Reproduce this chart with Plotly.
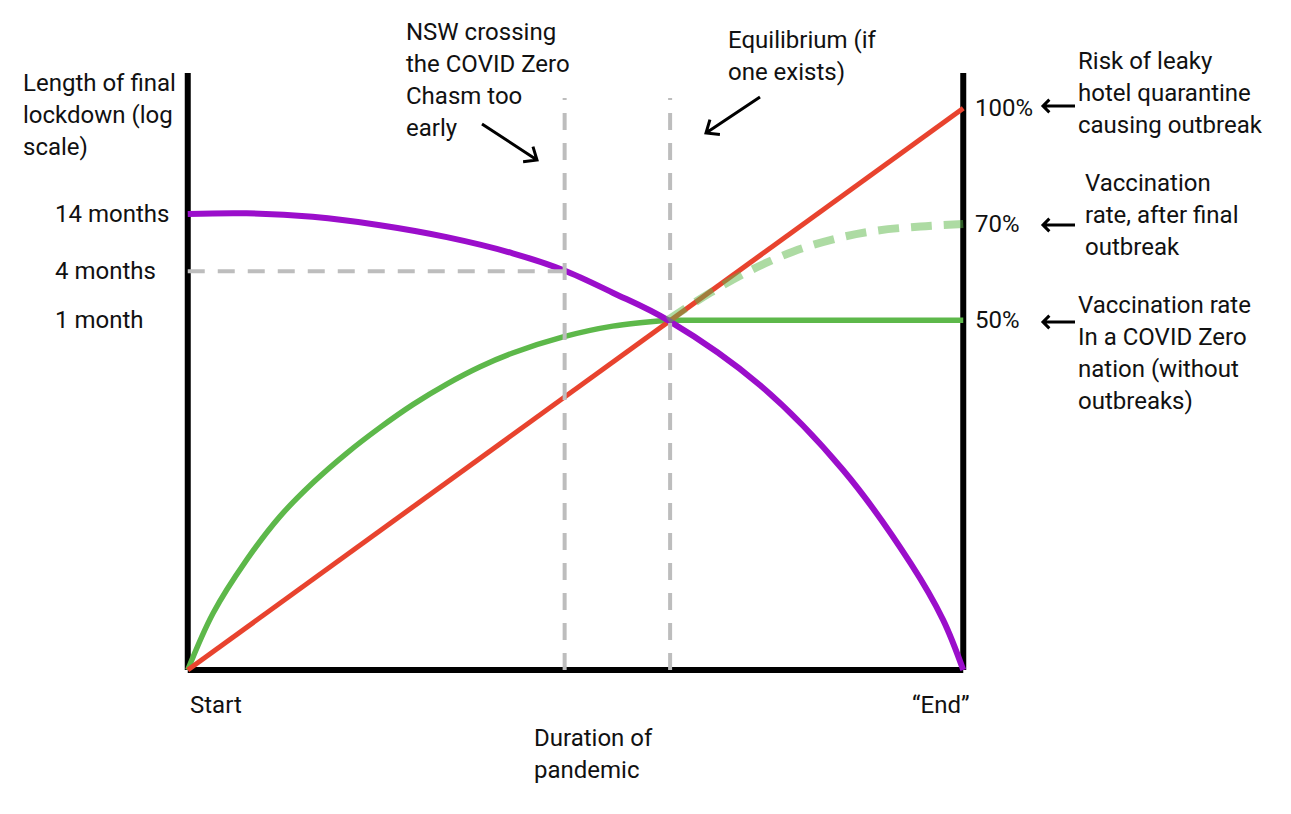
import math
import plotly.graph_objects as go

# ---------------- data ----------------
# x: duration of pandemic (0 = Start, 100 = "End"); y: relative height (0..100)
vacc_curve_x = [0, 3.26, 7.57, 11.87, 16.17, 20.48, 24.77, 29.07, 33.4, 37.7, 41.9, 48.4, 54.8, 61.9]
vacc_curve_y = [0, 9.5, 18.4, 25.7, 31.4, 36.3, 40.6, 44.5, 47.9, 50.8, 53.1, 55.8, 57.6, 58.6]
vacc_flat_x = [61.9, 100]
vacc_flat_y = [58.6, 58.6]

risk_x = [0, 100]
risk_y = [0, 94.1]

lockdown_x = [0, 7.6, 16.1, 24.8, 33.4, 41.9, 48.4, 54.8, 61.9, 73.8, 84.5, 93.2, 97.4, 100]
lockdown_y = [76.4, 76.5, 75.9, 74.5, 72.5, 69.8, 67.0, 63.2, 58.6, 47.7, 33.5, 17.9, 8.4, 0]

after_x = [61.9, 67.4, 72.5, 78.1, 83.7, 88.9, 94.5, 100]
after_y = [58.6, 63.2, 66.9, 70.1, 72.3, 73.6, 74.3, 74.7]

nsw_x = 48.6
equilibrium_x = 62.2
guide_top = 95.8
nsw_lockdown_y = 66.8

left_tick_vals = [76.4, 66.8, 58.6]
left_tick_text = ["14 months", "4 months", "1 month"]
right_tick_vals = [94.1, 74.7, 58.6]
right_tick_text = ["100%", "70%", "50%"]

# ---------------- layout geometry ----------------
# page body has an 8px margin; positions below are in screenshot pixels
W, H = 1275, 798
L, R, T, B = 172, 312, 59, 130
XR = [-1, 101]
YR = [-1, 101]

def pxp(x):
    return (x - 8 - L) / (W - L - R)

def pyp(y):
    return (H - B - (y - 8)) / (H - T - B)

FONT = dict(family="Roboto, 'Open Sans', sans-serif", size=24, color="#111111")

PURPLE = "#9B0ECB"
RED = "#E8432E"
GREEN = "#5DB84A"
GREY = "#BDBDBD"

fig = go.Figure()

fig.add_trace(go.Scatter(x=vacc_curve_x, y=vacc_curve_y, mode="lines",
                         line=dict(color=GREEN, width=5.5, shape="spline", smoothing=1.0)))
fig.add_trace(go.Scatter(x=vacc_flat_x, y=vacc_flat_y, mode="lines",
                         line=dict(color=GREEN, width=5.5)))
fig.add_trace(go.Scatter(x=risk_x, y=risk_y, mode="lines",
                         line=dict(color=RED, width=5)))
fig.add_trace(go.Scatter(x=lockdown_x, y=lockdown_y, mode="lines",
                         line=dict(color=PURPLE, width=6, shape="spline", smoothing=1.0)))
fig.add_trace(go.Scatter(x=after_x, y=after_y, mode="lines", opacity=0.5,
                         line=dict(color=GREEN, width=8, dash="21px,12px", shape="spline", smoothing=1.0)))

# grey guide lines
for gx, gy in [([nsw_x, nsw_x], [0, guide_top]),
               ([equilibrium_x, equilibrium_x], [0, guide_top]),
               ([0, nsw_x], [nsw_lockdown_y, nsw_lockdown_y])]:
    fig.add_trace(go.Scatter(x=gx, y=gy, mode="lines",
                             line=dict(color=GREY, width=4, dash="17px,13px")))

shapes = []
# axes frame (left, right, bottom)
for x0, y0, x1, y1 in [(0, 0, 0, 100), (100, 0, 100, 100), (0, 0, 100, 0)]:
    shapes.append(dict(type="line", xref="x", yref="y", x0=x0, y0=y0, x1=x1, y1=y1,
                       line=dict(color="black", width=6), layer="below"))

def arrow(tail, head, leg=14, ang=40, width=3):
    tx, ty = tail
    hx, hy = head
    dx, dy = hx - tx, hy - ty
    n = math.hypot(dx, dy)
    ux, uy = dx / n, dy / n
    pts = []
    for s in (1, -1):
        a = math.radians(ang) * s
        bx = (-ux) * math.cos(a) - (-uy) * math.sin(a)
        by = (-ux) * math.sin(a) + (-uy) * math.cos(a)
        pts.append((hx + leg * bx, hy + leg * by))
    path = (f"M {pxp(tx)} {pyp(ty)} L {pxp(hx)} {pyp(hy)} "
            f"M {pxp(pts[0][0])} {pyp(pts[0][1])} L {pxp(hx)} {pyp(hy)} "
            f"L {pxp(pts[1][0])} {pyp(pts[1][1])}")
    shapes.append(dict(type="path", xref="paper", yref="paper", path=path,
                       line=dict(color="black", width=width)))

arrow((482, 124), (537, 160))
arrow((760, 97), (706, 133))
arrow((1075, 106), (1043, 106), leg=9, ang=45)
arrow((1075, 225), (1043, 225), leg=9, ang=45)
arrow((1075, 322), (1043, 322), leg=9, ang=45)

annotations = []

def block(lines, x, y0, dy=32, anchor="left"):
    for i, s in enumerate(lines):
        annotations.append(dict(text=s, x=pxp(x), y=pyp(y0 + i * dy), xref="paper", yref="paper",
                                xanchor=anchor, yanchor="middle", showarrow=False, font=FONT))

block(["Length of final", "lockdown (log", "scale)"], 21, 83)
block(["NSW crossing", "the COVID Zero", "Chasm too", "early"], 404, 32)
block(["Equilibrium (if", "one exists)"], 726, 40)
block(["Risk of leaky", "hotel quarantine", "causing outbreak"], 1076, 61)
block(["Vaccination", "rate, after final", "outbreak"], 1083, 183)
block(["Vaccination rate", "In a COVID Zero", "nation (without", "outbreaks)"], 1076, 305)
block(["Start"], 188, 705)
block(["\u201cEnd\u201d"], 972, 705, anchor="right")
block(["Duration of", "pandemic"], 532, 738)

for v, t in zip(left_tick_vals, left_tick_text):
    annotations.append(dict(text=t, x=pxp(53), y=v, xref="paper", yref="y",
                            xanchor="left", yanchor="middle", showarrow=False, font=FONT))
for v, t in zip(right_tick_vals, right_tick_text):
    annotations.append(dict(text=t, x=pxp(973), y=v, xref="paper", yref="y",
                            xanchor="left", yanchor="middle", showarrow=False, font=FONT))

fig.update_layout(
    width=W, height=H,
    margin=dict(l=L, r=R, t=T, b=B, pad=0),
    paper_bgcolor="white", plot_bgcolor="white",
    showlegend=False,
    xaxis=dict(range=XR, visible=False, fixedrange=True),
    yaxis=dict(range=YR, visible=False, fixedrange=True),
    shapes=shapes,
    annotations=annotations,
)

fig.write_html("out.html", config={"displayModeBar": False})
